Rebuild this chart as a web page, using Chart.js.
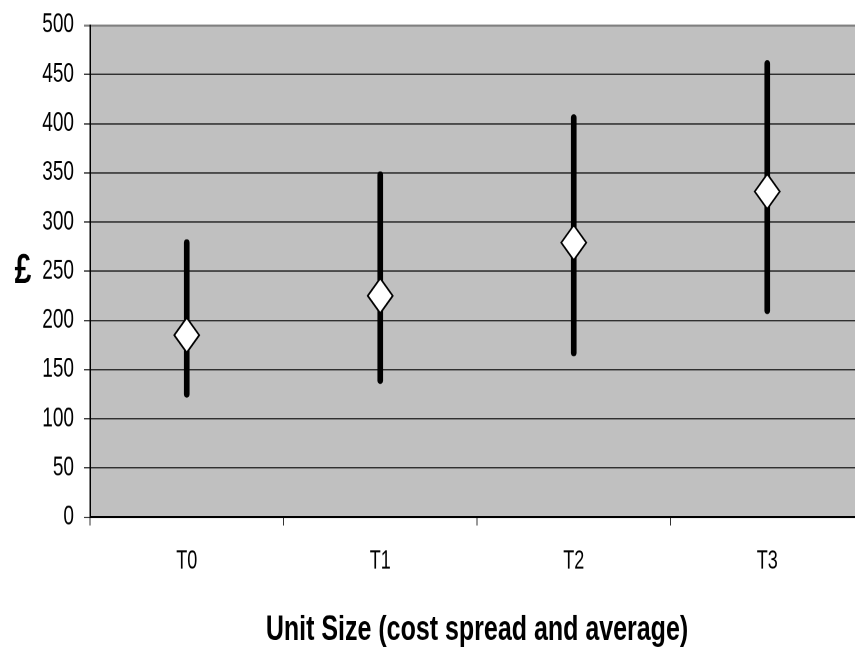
<!DOCTYPE html>
<html>
<head>
<meta charset="utf-8">
<script src="https://cdn.jsdelivr.net/npm/chart.js@4.4.1/dist/chart.umd.min.js"></script>
<style>
    html, body { margin: 0; padding: 0; background: #fff; overflow: hidden; }
</style>
</head>
<body>
<canvas id="costChart" width="880" height="467" style="display:block;width:880px;height:654px"></canvas>
<script>
const categories = ['T0', 'T1', 'T2', 'T3'];
const lowCost = [122, 136, 164, 207];
const highCost = [282, 351, 409, 464];
const avgCost = [185, 225, 279, 331];
const yTicks = [0, 50, 100, 150, 200, 250, 300, 350, 400, 450, 500];

const FONT = "'Liberation Sans', Arial, sans-serif";

// grey plot area + the £ label at the left
const plotBackground = {
    id: 'plotBackground',
    beforeDraw(chart) {
        const a = chart.chartArea, ctx = chart.ctx;
        ctx.save();
        ctx.fillStyle = '#C0C0C0';
        ctx.fillRect(a.left, a.top, a.right - a.left, a.bottom - a.top);
        ctx.restore();
    },
    afterDraw(chart) {
        const a = chart.chartArea, ctx = chart.ctx;
        ctx.save();
        ctx.font = 'bold 30px ' + FONT;
        ctx.fillStyle = '#000';
        ctx.textAlign = 'center';
        ctx.textBaseline = 'middle';
        ctx.fillText('£', 23, (a.top + a.bottom) / 2);
        ctx.restore();
    }
};

document.addEventListener('DOMContentLoaded', function() { renderCostChart(); });

function renderCostChart() {
    const canvas = document.getElementById('costChart');
    if (!canvas || !window.Chart) return;
    new Chart(canvas.getContext('2d'), {
        type: 'bar',
        data: {
            labels: categories,
            datasets: [
                {
                    type: 'line',
                    label: 'Average',
                    data: avgCost,
                    showLine: false,
                    pointStyle: 'rectRot',
                    pointRadius: 12.5,
                    pointBackgroundColor: '#fff',
                    pointBorderColor: '#000',
                    pointBorderWidth: 1.5,
                    order: 0
                },
                {
                    label: 'Spread',
                    data: categories.map((c, i) => [lowCost[i], highCost[i]]),
                    backgroundColor: '#000',
                    barThickness: 5,
                    borderRadius: 2.5,
                    borderSkipped: false,
                    order: 1
                }
            ]
        },
        options: {
            responsive: false,
            devicePixelRatio: 2,
            animation: false,
            layout: { padding: { top: 18, right: 16, bottom: 0, left: 0 } },
            plugins: { legend: { display: false }, tooltip: { enabled: false } },
            scales: {
                y: {
                    min: 0,
                    max: 500,
                    afterFit: s => { s.width = 90; s.paddingTop = 0; s.paddingBottom = 0; },
                    afterBuildTicks: s => { s.ticks = yTicks.map(v => ({ value: v })); },
                    ticks: { color: '#000', padding: 10, font: { family: FONT, size: 19 } },
                    grid: {
                        color: ctx => ctx.tick && ctx.tick.value === 500 ? '#808080' : '#000',
                        lineWidth: ctx => ctx.tick && ctx.tick.value === 500 ? 1.5 : 0.75,
                        tickLength: 6
                    },
                    border: { color: '#000', width: 1.5 }
                },
                x: {
                    afterFit: s => { s.height = 97.7; s.paddingTop = 0; s.paddingBottom = 0; },
                    ticks: { color: '#000', padding: 15, font: { family: FONT, size: 18 } },
                    grid: { drawOnChartArea: false, color: '#333', tickLength: 6 },
                    border: { color: '#000', width: 1.5 },
                    title: {
                        display: true,
                        text: 'Unit Size (cost spread and average)',
                        color: '#000',
                        padding: { top: 0, bottom: 2 },
                        font: { family: FONT, size: 25, weight: 'bold' }
                    }
                }
            }
        },
        plugins: [plotBackground]
    });
}
</script>
</body>
</html>
